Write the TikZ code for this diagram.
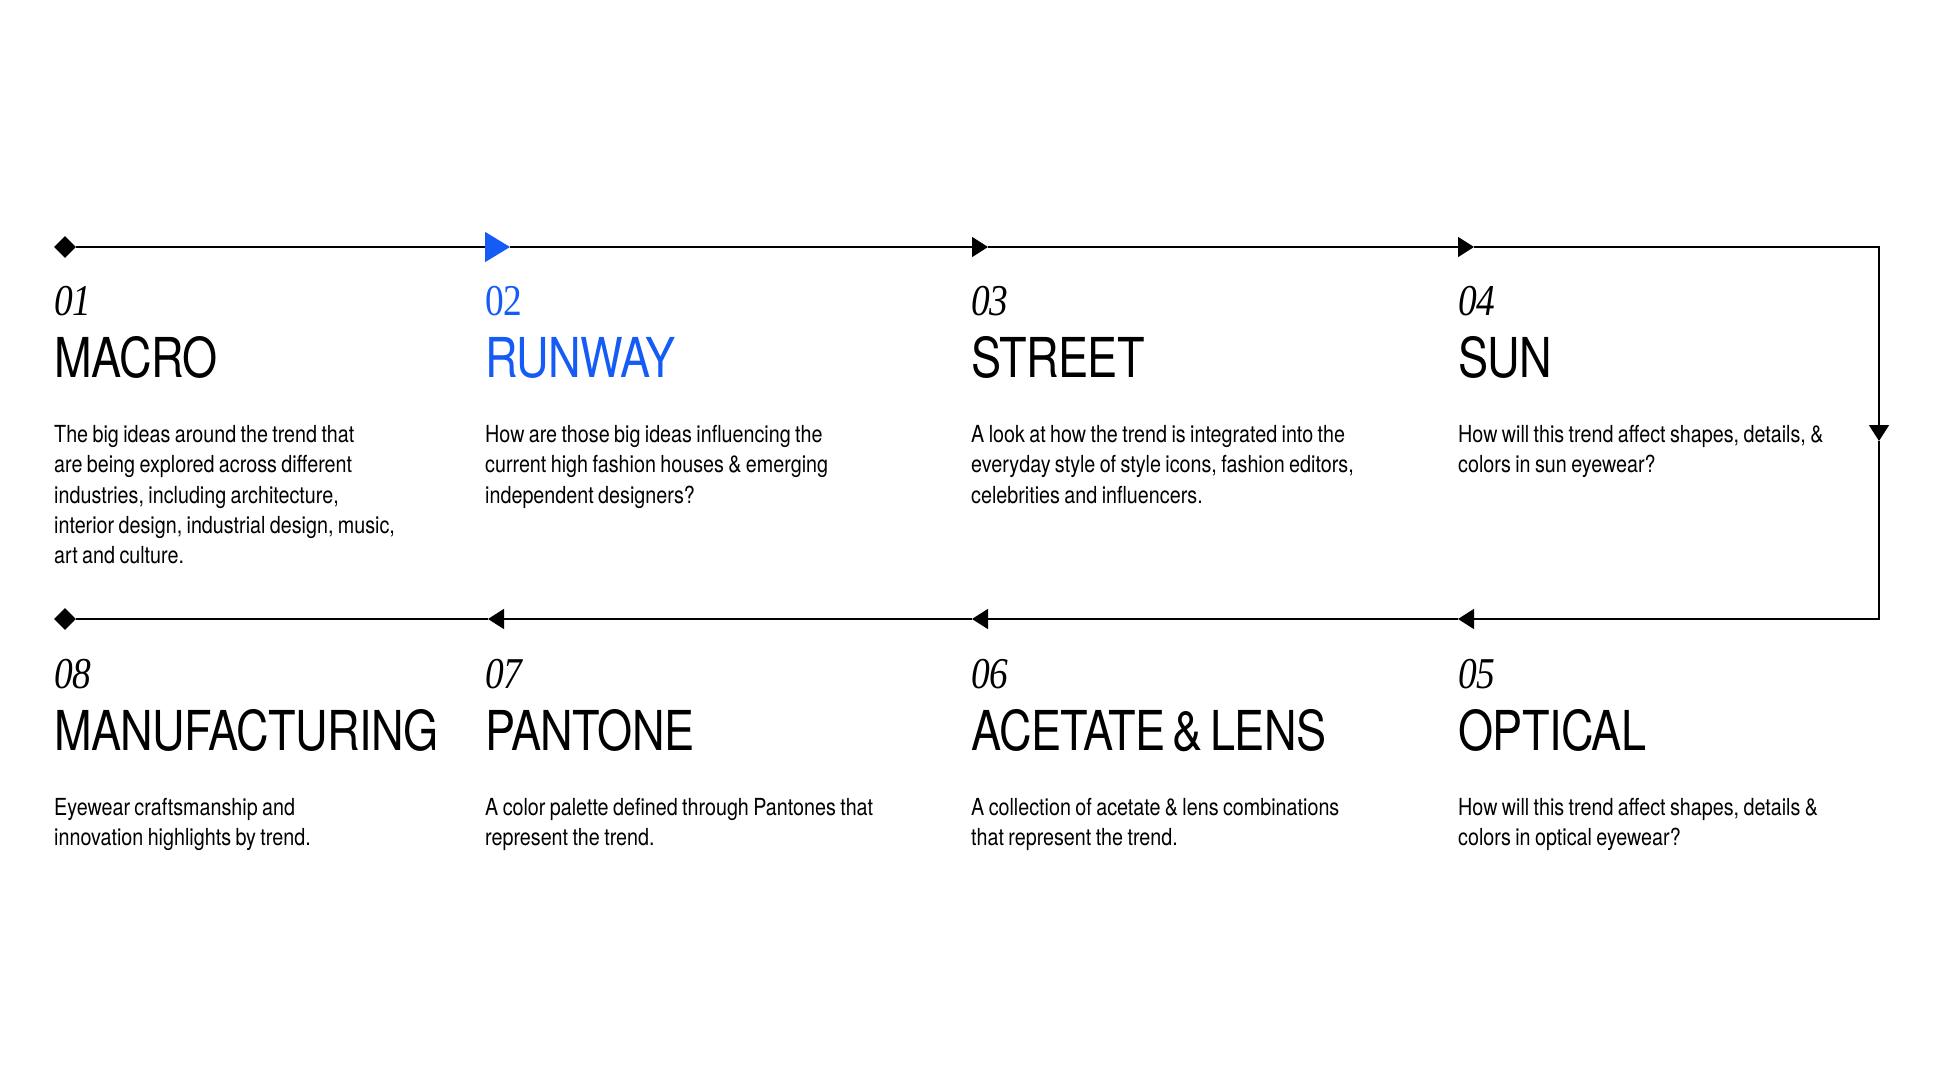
\documentclass[tikz,border=0pt]{standalone}
\usepackage{fontspec}
\usetikzlibrary{arrows.meta,shapes.geometric}
\newfontfamily\numfont[FakeStretch=0.85]{Liberation Serif}
\newfontfamily\headfont[FakeStretch=0.82,LetterSpace=-1,WordSpace=0.6]{TeX Gyre Heros}
\newfontfamily\bodyfont[FakeStretch=0.84,WordSpace=0.8]{TeX Gyre Heros}
\definecolor{runway-blue}{RGB}{20,92,245}
\tikzset{
  flow/.style={line width=1.6pt},
  tip/.style={-{Triangle[length=16pt,width=20pt]}},
  tip-blue/.style={-{Triangle[length=25pt,width=30pt,color=runway-blue]}},
  ends/.style={diamond,fill=black,inner sep=0pt,minimum size=22pt},
  num/.style={anchor=base west,inner sep=0pt,font={\numfont\itshape\fontsize{44}{44}\selectfont}},
  title/.style={anchor=base west,inner sep=0pt,font={\headfont\fontsize{55}{55}\selectfont}},
  desc/.style={anchor=north west,inner sep=0pt,align=left,font={\bodyfont\fontsize{23.5}{30.2}\selectfont}},
}
\begin{document}
\begin{tikzpicture}[x=1pt, y=-1pt]
    \useasboundingbox (0,0) rectangle (1936,1089);
    % number, title and text of one stage; the strut sets the first baseline
    \def\stage#1#2#3#4#5#6{%
      \node[num]   (n#1) at (#2,#3)             {#4};
      \node[title] (t#1) at (#2,#3+62.5)        {#5};
      \node[desc]  (d#1) at (#2,#3+127.5-21.14) {\strut #6};
    }
    % the loop of the eight stages
    \node[ends] (start) at (65,247) {};
    \coordinate (p2) at (510,247);
    \coordinate (p3) at (988,247);
    \coordinate (p4) at (1474,247);
    \coordinate (k1) at (1879,247);
    \coordinate (p5) at (1879,441);
    \coordinate (k2) at (1879,619);
    \coordinate (p6) at (1458,619);
    \coordinate (p7) at (972,619);
    \coordinate (p8) at (488,619);
    \node[ends] (stop) at (65,619) {};
    \draw[flow,tip-blue] (start) -- (p2);
    \draw[flow,tip] (p2) -- (p3);
    \draw[flow,tip] (p3) -- (p4);
    \draw[flow,tip] (p4) -- (k1) -- (p5);
    \draw[flow,tip] (p5) -- (k2) -- (p6);
    \draw[flow,tip] (p6) -- (p7);
    \draw[flow,tip] (p7) -- (p8);
    \draw[flow] (p8) -- (stop);
    % top row
    \stage{1}{54}{315}{01}{MACRO}{The big ideas around the trend that\\are being explored across different\\industries, including architecture,\\interior design, industrial design, music,\\art and culture.}
    \stage{2}{485}{315}{\color{runway-blue}\upshape 02}{\color{runway-blue}RUNWAY}{How are those big ideas influencing the\\current high fashion houses \& emerging\\independent designers?}
    \stage{3}{971}{315}{03}{STREET}{A look at how the trend is integrated into the\\everyday style of style icons, fashion editors,\\celebrities and influencers.}
    \stage{4}{1458}{315}{04}{SUN}{How will this trend affect shapes, details, \&\\colors in sun eyewear?}
    % bottom row
    \stage{5}{1458}{688}{05}{OPTICAL}{How will this trend affect shapes, details \&\\colors in optical eyewear?}
    \stage{6}{971}{688}{06}{ACETATE \& LENS}{A collection of acetate \& lens combinations\\that represent the trend.}
    \stage{7}{485}{688}{07}{PANTONE}{A color palette defined through Pantones that\\represent the trend.}
    \stage{8}{54}{688}{08}{MANUFACTURING}{Eyewear craftsmanship and\\innovation highlights by trend.}
\end{tikzpicture}
\end{document}
